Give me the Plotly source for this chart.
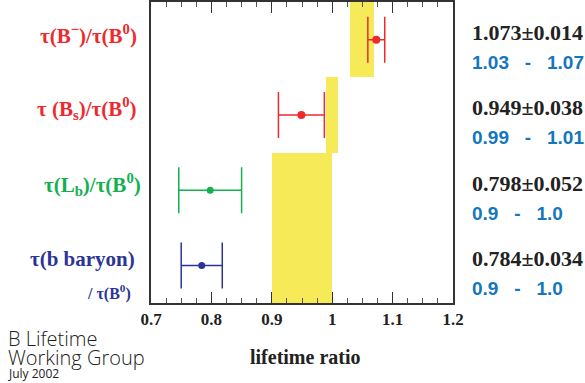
import plotly.graph_objects as go

# ---- data ----
labels = ["τ(B<sup>−</sup>)/τ(B<sup>0</sup>)", "τ (B<sub>s</sub>)/τ(B<sup>0</sup>)",
          "τ(L<sub>b</sub>)/τ(B<sup>0</sup>)", "τ(b baryon)"]
rows = [4, 3, 2, 1]
values = [1.073, 0.949, 0.798, 0.784]
errors = [0.014, 0.038, 0.052, 0.034]
colors = ["#ee2a2e", "#ee2a2e", "#12b04f", "#2b3597"]
value_texts = ["1.073±0.014", "0.949±0.038", "0.798±0.052", "0.784±0.034"]
range_lo_texts = ["1.03", "0.99", "0.9", "0.9"]
range_hi_texts = ["1.07", "1.01", "1.0", "1.0"]

band_lo = [1.03, 0.99, 0.90]
band_hi = [1.07, 1.01, 1.00]
band_y = [4, 3, 1.5]
band_h = [1, 1, 2]

fig = go.Figure()

fig.add_trace(go.Bar(
    orientation="h", y=band_y, base=band_lo,
    x=[h - l for l, h in zip(band_lo, band_hi)],
    width=band_h, marker=dict(color="#f7ea58", line=dict(width=0)),
    hoverinfo="skip", showlegend=False))

for r, v, e, c in zip(rows, values, errors, colors):
    fig.add_trace(go.Scatter(
        x=[v], y=[r], mode="markers",
        marker=dict(color=c, size=8 if c == "#ee2a2e" else 7),
        error_x=dict(type="data", array=[e], color=c, thickness=1.5, width=23),
        showlegend=False))

# dummy trace for the top axis (mirrored minor ticks)
fig.add_trace(go.Scatter(x=[], y=[], xaxis="x2", showlegend=False, hoverinfo="skip"))

ann = []
label_font = dict(family="Liberation Serif", size=21, weight="bold")
label_x = [139, 139, 143, 137]
label_shift = [5, 6, 6, 6]
for lab, r, c, lx, ys in zip(labels, rows, colors, label_x, label_shift):
    ann.append(dict(text=lab, xref="paper", x=(lx - 151) / 302, xanchor="right",
                    yref="y", y=r, yshift=ys, showarrow=False,
                    font=dict(color=c, **label_font)))
ann.append(dict(text="/ τ(B<sup>0</sup>)", xref="paper", x=(133 - 151) / 302, xanchor="right",
                yref="y", y=1, yshift=-27, showarrow=False,
                font=dict(color="#2b3597", family="Liberation Serif", size=16, weight="bold")))

sep = "\u00a0\u00a0\u00a0-\u00a0\u00a0\u00a0"
for r, vt, lo, hi in zip(rows, value_texts, range_lo_texts, range_hi_texts):
    ann.append(dict(text=vt, xref="paper", x=(470 - 151) / 302, xanchor="left",
                    yref="y", y=r, yshift=7, showarrow=False,
                    font=dict(color="#222222", family="Liberation Serif", size=22, weight="bold")))
    ann.append(dict(text=lo + sep + hi, xref="paper", x=(470 - 151) / 302, xanchor="left",
                    yref="y", y=r, yshift=-23, showarrow=False,
                    font=dict(color="#1476bc", family="Liberation Sans", size=19, weight="bold")))

ann.append(dict(text="lifetime ratio", xref="paper", x=(305 - 151) / 302, xanchor="center",
                yref="paper", y=(303 - 357) / 301, yanchor="middle", showarrow=False,
                font=dict(color="#222222", family="Liberation Serif", size=20, weight="bold")))
for txt, yc, sz in [("B Lifetime", 338, 20), ("Working Group", 357, 20), ("July 2002", 373, 12)]:
    ann.append(dict(text=txt, xref="paper", x=(6 - 151) / 302, xanchor="left",
                    yref="paper", y=(303 - yc) / 301, yanchor="middle", showarrow=False,
                    font=dict(color="#222222", family="Open Sans", size=sz,
                              weight=300 if sz > 15 else 400)))

axis_common = dict(range=[0.7, 1.2], dtick=0.1, ticks="inside", ticklen=11, tickwidth=1.2,
                   tickcolor="#333333", showline=True, linecolor="#333333", linewidth=1.8,
                   showgrid=False, zeroline=False,
                   minor=dict(dtick=0.025, ticks="inside", ticklen=5, tickcolor="#555555",
                              showgrid=False))

fig.update_layout(
    width=585, height=383,
    margin=dict(l=151, r=132, t=2, b=80),
    plot_bgcolor="white", paper_bgcolor="white",
    bargap=0, annotations=ann,
    xaxis=dict(**axis_common,
               tickfont=dict(family="Liberation Serif", size=17, color="#222222", weight="bold")),
    xaxis2=dict(**axis_common, overlaying="x", side="top", anchor="y", matches="x",
                showticklabels=False),
    yaxis=dict(range=[0.5, 4.5], showticklabels=False, ticks="", showline=True,
               linecolor="#333333", linewidth=1.8, mirror=True, showgrid=False, zeroline=False),
)

fig.write_html("out.html")
